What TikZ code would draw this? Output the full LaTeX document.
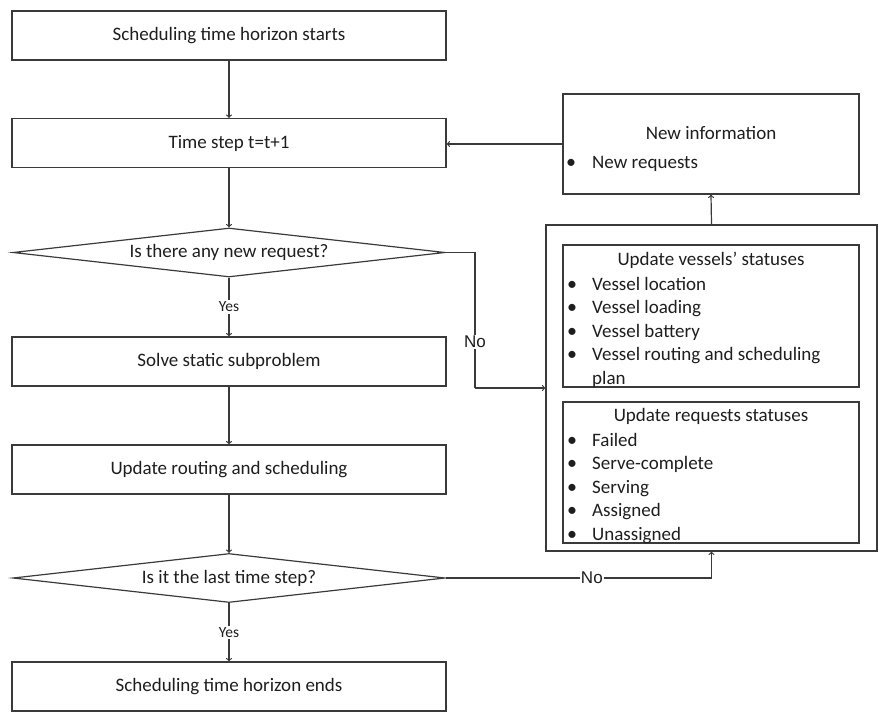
\documentclass[tikz,border=0pt]{standalone}
\usepackage{fontspec}
\setmainfont{Carlito}
\newfontfamily\labfont{Liberation Sans}
\usetikzlibrary{shapes.geometric}
\definecolor{linec}{HTML}{3A3A3A}
\definecolor{txtc}{HTML}{1E1E1E}
\begin{document}
\begin{tikzpicture}[x=1pt,y=-1pt,
  every node/.style={text=txtc},
  box/.style={draw=linec,line width=1.2pt,rectangle,minimum width=434pt,minimum height=49pt,inner sep=0pt,font=\fontsize{19}{23.4}\selectfont},
  decision/.style={draw=linec,line width=1.2pt,diamond,aspect=8.8,minimum width=432pt,minimum height=49pt,inner sep=0pt,font=\fontsize{19}{23.4}\selectfont},
  frame/.style={draw=linec,line width=1.2pt,rectangle,inner sep=0pt},
  txt/.style={inner sep=0pt,font=\fontsize{19}{23.4}\selectfont},
  item/.style={txt,anchor=base west},
  bul/.style={inner sep=0pt,anchor=base,font=\fontsize{20}{23.4}\selectfont},
  conn/.style={draw=linec,line width=1.2pt},
  arr/.style={conn,->},
  yeslab/.style={fill=white,inner sep=1.5pt,font=\fontsize{15.5}{18}\selectfont},
  nolab/.style={fill=white,inner sep=1pt,font=\labfont\fontsize{17}{20}\selectfont}
]
\useasboundingbox (0,0) rectangle (881,712);

% left column
\node[box] (b1) at (229,35.5) {Scheduling time horizon starts};
\node[box] (b2) at (229,143) {Time step t=t+1};
\node[decision] (d1) at (229,252.5) {\makebox[0pt]{Is there any new request?}};
\node[box] (b3) at (229,361.5) {Solve static subproblem};
\node[box] (b4) at (229,469.5) {Update routing and scheduling};
\node[decision] (d2) at (229,578) {\makebox[0pt]{Is it the last time step?}};
\node[box] (b5) at (229,686.5) {Scheduling time horizon ends};

% right column
\node[frame,minimum width=296pt,minimum height=100pt] (ni) at (711,144) {};
\node[txt] (nit) at (711,133) {New information};
\node[bul] (nib) at (571,168.5) {\textbullet};
\node[item] (nii) at (592,168.5) {New requests};

\node[frame,minimum width=331pt,minimum height=326pt] (big) at (711.5,388) {};
\node[frame,minimum width=296pt,minimum height=142pt] (in1) at (711,316) {};
\node[frame,minimum width=296pt,minimum height=141pt] (in2) at (711,472.5) {};

\node[txt] (v0) at (711,260) {Update vessels’ statuses};
\foreach \n/\y/\t in {1/290/Vessel location,2/313.5/Vessel loading,3/337/Vessel battery,4/360.5/Vessel routing and scheduling}{
  \node[bul] (vb\n) at (572,\y) {\textbullet};
  \node[item] (v\n) at (592,\y) {\t};
}
\node[item] (v5) at (592,384) {plan};

\node[txt] (r0) at (711,416) {Update requests statuses};
\foreach \n/\y/\t in {1/446/Failed,2/469.5/Serve-complete,3/493/Serving,4/516.5/Assigned,5/540/Unassigned}{
  \node[bul] (rb\n) at (572,\y) {\textbullet};
  \node[item] (r\n) at (592,\y) {\t};
}

% connectors
\coordinate (c1) at (475,252.5);
\coordinate (c2) at (475,388);
\coordinate (c3) at (711.5,578);

\draw[arr] (b1) -- (b2);
\draw[arr] (ni.west) -- (ni.west -| b2.east);
\draw[arr] (b2) -- (d1);
\draw[arr] (d1.south) -- node[yeslab,pos=0.5] {Yes} (b3.north);
\draw[conn] (d1.east) -- (c1) -- node[nolab,pos=0.66] {No} (c2);
\draw[arr] (c2) -- (big.west |- c2);
\draw[arr] (b3) -- (b4);
\draw[arr] (b4) -- (d2);
\draw[arr] (d2.south) -- node[yeslab,pos=0.5] {Yes} (b5.north);
\draw[conn] (d2.east) -- node[nolab,pos=0.55] {No} (c3);
\draw[arr] (c3) -- (big.south);
\draw[arr] (big.north) -- (ni.south);
\end{tikzpicture}
\end{document}
